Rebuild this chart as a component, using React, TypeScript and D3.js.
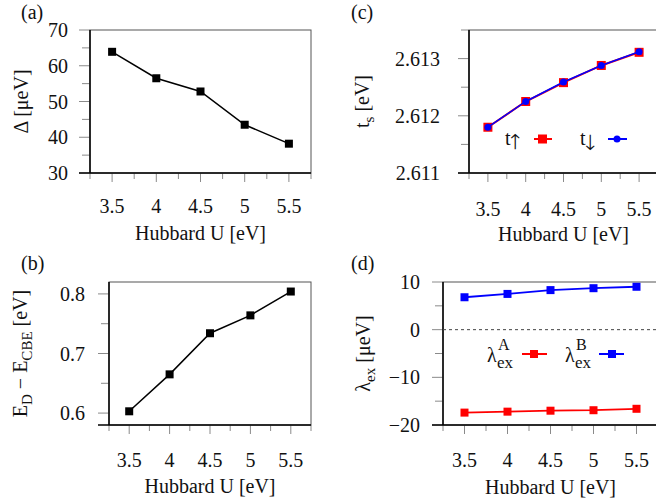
import React from 'react';
import * as d3 from 'd3';

const hubbardU = [3.5, 4, 4.5, 5, 5.5];
const deltaValues = [63.9, 56.5, 52.8, 43.5, 38.2];
const donorEnergy = [0.603, 0.665, 0.734, 0.764, 0.804];
const tUp = [2.6118, 2.61225, 2.61258, 2.61288, 2.61311];
const tDown = [2.6118, 2.61225, 2.61259, 2.61288, 2.61312];
const lambdaA = [-17.4, -17.2, -17.0, -16.9, -16.6];
const lambdaB = [6.8, 7.5, 8.3, 8.7, 9.0];

const xTicks = [3.5, 4, 4.5, 5, 5.5];
const xMinorTicks = [3.25, 3.75, 4.25, 4.75, 5.25, 5.75];
const xDomain: [number, number] = [3.25, 5.75];

const yTicksA = [30, 40, 50, 60, 70];
const yMinorA = [35, 45, 55, 65];
const yTicksB = [0.6, 0.7, 0.8];
const yMinorB = [0.65, 0.75];
const yTicksC = [2.611, 2.612, 2.613];
const yMinorC = [2.6115, 2.6125, 2.6135];
const yTicksD = [-20, -10, 0, 10];
const yMinorD = [-15, -5, 5];

const FONT = 'Liberation Serif, Tinos, Times New Roman, serif';
const ARROW_FONT = 'FreeSerif, Liberation Serif, serif';
const RED = '#ff0000';
const BLUE = '#0000ff';
const TS = { fontFamily: FONT };

type Box = { left: number; right: number; top: number; bottom: number };

function Axes({ box, x, y, yTicks, yMinor, fmt, gap, xLabelY, titleY }: any) {
  const tickCol = '#8a8a8a';
  return (
    <g>
      <rect x={box.left} y={box.top} width={box.right - box.left} height={box.bottom - box.top}
        fill="none" stroke="#555" strokeWidth={1} />
      {yTicks.map((t: number) => (
        <g key={'yt' + t}>
          <line x1={box.left - 11} x2={box.left} y1={y(t)} y2={y(t)} stroke={tickCol} strokeWidth={1} />
          <text x={box.left - gap} y={y(t)} dy="0.35em" textAnchor="end" fontSize={20} style={TS} fill="#111">{fmt(t)}</text>
        </g>
      ))}
      {yMinor.map((t: number) => (
        <line key={'ym' + t} x1={box.left - 8} x2={box.left} y1={y(t)} y2={y(t)} stroke={tickCol} strokeWidth={1} />
      ))}
      {xTicks.map((t) => (
        <g key={'xt' + t}>
          <line x1={x(t)} x2={x(t)} y1={box.bottom} y2={box.bottom + 9} stroke={tickCol} strokeWidth={1} />
          <text x={x(t)} y={xLabelY} textAnchor="middle" fontSize={20} style={TS} fill="#111">{String(t)}</text>
        </g>
      ))}
      {xMinorTicks.map((t) => (
        <line key={'xm' + t} x1={x(t)} x2={x(t)} y1={box.bottom} y2={box.bottom + 6} stroke={tickCol} strokeWidth={1} />
      ))}
      <line x1={box.left} x2={box.left} y1={box.top} y2={box.bottom} stroke="#000" strokeWidth={1.5} />
      <line x1={box.left - 11} x2={box.right} y1={box.bottom} y2={box.bottom} stroke="#000" strokeWidth={1.5} />
      <text x={(box.left + box.right) / 2} y={titleY} textAnchor="middle" fontSize={20} style={TS} fill="#111">Hubbard U [eV]</text>
    </g>
  );
}

function Squares({ xs, ys, x, y, size, color }: any) {
  return (
    <g>
      {xs.map((v: number, i: number) => (
        <rect key={i} x={x(v) - size / 2} y={y(ys[i]) - size / 2} width={size} height={size} fill={color} />
      ))}
    </g>
  );
}

export default function App() {
  const boxA: Box = { left: 90, right: 311, top: 30, bottom: 173 };
  const boxC: Box = { left: 469, right: 658, top: 30, bottom: 173 };
  const boxB: Box = { left: 109, right: 311, top: 282, bottom: 425 };
  const boxD: Box = { left: 443, right: 658, top: 282, bottom: 425 };

  const xA = d3.scaleLinear().domain(xDomain).range([boxA.left, boxA.right]);
  const yA = d3.scaleLinear().domain([30, 70]).range([boxA.bottom, boxA.top]);
  const xB = d3.scaleLinear().domain(xDomain).range([boxB.left, boxB.right]);
  const yB = d3.scaleLinear().domain([0.58, 0.82]).range([boxB.bottom, boxB.top]);
  const xC = d3.scaleLinear().domain(xDomain).range([boxC.left, boxC.right]);
  const yC = d3.scaleLinear().domain([2.611, 2.6135]).range([boxC.bottom, boxC.top]);
  const xD = d3.scaleLinear().domain(xDomain).range([boxD.left, boxD.right]);
  const yD = d3.scaleLinear().domain([-20, 10]).range([boxD.bottom, boxD.top]);

  const mk = (x: any, y: any, ys: number[]) =>
    d3.line<number>().x((d) => x(d)).y((_, i) => y(ys[i]))(hubbardU) || '';

  const fA = d3.format('d');
  const fB = d3.format('.1f');
  const fC = d3.format('.3f');
  const fD = d3.format('d');

  return (
    <svg width={656} height={500} style={{ position: 'absolute', left: 0, top: 0, background: '#fff', fontFamily: FONT }}>
      <rect x={0} y={0} width={656} height={500} fill="#fff" />
      {/* panel labels */}
      <text x={21} y={19} fontSize={20} style={TS} fill="#111">(a)</text>
      <text x={351} y={19} fontSize={20} style={TS} fill="#111">(c)</text>
      <text x={21} y={270} fontSize={20} style={TS} fill="#111">(b)</text>
      <text x={351} y={270} fontSize={20} style={TS} fill="#111">(d)</text>

      {/* (a) */}
      <Axes box={boxA} x={xA} y={yA} yTicks={yTicksA} yMinor={yMinorA} fmt={fA} gap={22} xLabelY={213} titleY={240} />
      <path d={mk(xA, yA, deltaValues)} fill="none" stroke="#000" strokeWidth={1.5} />
      <Squares xs={hubbardU} ys={deltaValues} x={xA} y={yA} size={8} color="#000" />
      <text transform={`translate(28,${(boxA.top + boxA.bottom) / 2}) rotate(-90)`} textAnchor="middle" fontSize={20} style={TS} fill="#111">Δ [μeV]</text>

      {/* (b) */}
      <Axes box={boxB} x={xB} y={yB} yTicks={yTicksB} yMinor={yMinorB} fmt={fB} gap={24} xLabelY={467} titleY={493} />
      <path d={mk(xB, yB, donorEnergy)} fill="none" stroke="#000" strokeWidth={1.5} />
      <Squares xs={hubbardU} ys={donorEnergy} x={xB} y={yB} size={8} color="#000" />
      <text transform={`translate(27,${(boxB.top + boxB.bottom) / 2}) rotate(-90)`} textAnchor="middle" fontSize={20} style={TS} fill="#111">
        E<tspan fontSize={15} dy={5}>D</tspan><tspan dy={-5}> − E</tspan><tspan fontSize={15} dy={5}>CBE</tspan><tspan dy={-5}> [eV]</tspan>
      </text>

      {/* (c) */}
      <Axes box={boxC} x={xC} y={yC} yTicks={yTicksC} yMinor={yMinorC} fmt={fC} gap={29} xLabelY={216} titleY={241} />
      <path d={mk(xC, yC, tUp)} fill="none" stroke={RED} strokeWidth={2} />
      <Squares xs={hubbardU} ys={tUp} x={xC} y={yC} size={9} color={RED} />
      <path d={mk(xC, yC, tDown)} fill="none" stroke={BLUE} strokeWidth={1.5} />
      {hubbardU.map((v, i) => (
        <circle key={i} cx={xC(v)} cy={yC(tDown[i])} r={3.5} fill={BLUE} />
      ))}
      <text transform={`translate(369,${(boxC.top + boxC.bottom) / 2}) rotate(-90)`} textAnchor="middle" fontSize={20} style={TS} fill="#111">
        t<tspan fontSize={15} dy={5}>s</tspan><tspan dy={-5}> [eV]</tspan>
      </text>
      {/* legend (c) */}
      <text x={505} y={145} fontSize={20} style={TS} fill="#111">t<tspan dy={4} fontSize={21} style={{ fontFamily: ARROW_FONT }}>↑</tspan></text>
      <line x1={534} x2={552} y1={139} y2={139} stroke={RED} strokeWidth={2} />
      <rect x={538} y={134.5} width={9} height={9} fill={RED} />
      <text x={580} y={145} fontSize={20} style={TS} fill="#111">t<tspan dy={4} fontSize={21} style={{ fontFamily: ARROW_FONT }}>↓</tspan></text>
      <line x1={608} x2={627} y1={139} y2={139} stroke={BLUE} strokeWidth={2} />
      <circle cx={617} cy={139} r={3.5} fill={BLUE} />

      {/* (d) */}
      <Axes box={boxD} x={xD} y={yD} yTicks={yTicksD} yMinor={yMinorD} fmt={fD} gap={23} xLabelY={467} titleY={494} />
      <line x1={boxD.left} x2={boxD.right} y1={yD(0)} y2={yD(0)} stroke="#444" strokeWidth={1} strokeDasharray="3,3" />
      <path d={mk(xD, yD, lambdaA)} fill="none" stroke={RED} strokeWidth={1.8} />
      <Squares xs={hubbardU} ys={lambdaA} x={xD} y={yD} size={8} color={RED} />
      <path d={mk(xD, yD, lambdaB)} fill="none" stroke={BLUE} strokeWidth={1.8} />
      <Squares xs={hubbardU} ys={lambdaB} x={xD} y={yD} size={8} color={BLUE} />
      <text transform={`translate(370,${(boxD.top + boxD.bottom) / 2}) rotate(-90)`} textAnchor="middle" fontSize={20} style={TS} fill="#111">
        λ<tspan fontSize={15} dy={5}>ex</tspan><tspan dy={-5}> [μeV]</tspan>
      </text>
      {/* legend (d) */}
      <text x={487} y={362} fontSize={20} style={TS} fill="#111">λ</text>
      <text x={498} y={350} fontSize={16} style={TS} fill="#111">A</text>
      <text x={497} y={368} fontSize={17} style={TS} fill="#111">ex</text>
      <line x1={522} x2={547} y1={354} y2={354} stroke={RED} strokeWidth={2} />
      <rect x={530} y={350} width={8} height={8} fill={RED} />
      <text x={565} y={362} fontSize={20} style={TS} fill="#111">λ</text>
      <text x={576} y={350} fontSize={16} style={TS} fill="#111">B</text>
      <text x={575} y={368} fontSize={17} style={TS} fill="#111">ex</text>
      <line x1={599} x2={624} y1={354} y2={354} stroke={BLUE} strokeWidth={2} />
      <rect x={608} y={350} width={8} height={8} fill={BLUE} />
    </svg>
  );
}
